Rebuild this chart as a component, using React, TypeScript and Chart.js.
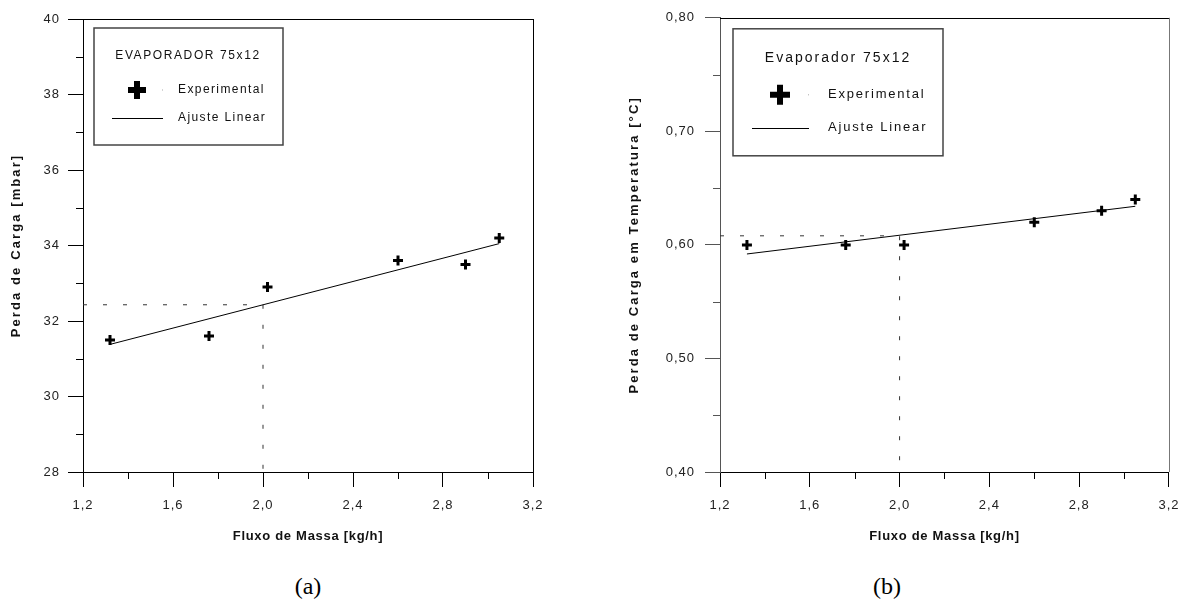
import React, { useEffect, useRef } from "react";
import { Chart, registerables } from "chart.js";

Chart.register(...registerables);

// ---------------- data ----------------
const massFlow = [1.32, 1.76, 2.02, 2.6, 2.9, 3.05];
const pressureDrop = [31.5, 31.6, 32.9, 33.6, 33.5, 34.2];
const tempDrop = [0.6, 0.6, 0.6, 0.62, 0.63, 0.64];

const fitFlow = [1.32, 3.05];
const fitPressure = [31.38, 34.05];
const fitTemp = [0.592, 0.634];

const refFlow = [1.2, 2.0, 2.0];
const refPressure = [32.43, 32.43, 28];
const refTemp = [0.608, 0.608, 0.4];

const xTickValues = [1.2, 1.6, 2.0, 2.4, 2.8, 3.2];
const xMinorValues = [1.4, 1.8, 2.2, 2.6, 3.0];
const yTickValuesA = [28, 30, 32, 34, 36, 38, 40];
const yMinorValuesA = [29, 31, 33, 35, 37, 39];
const yTickValuesB = [0.4, 0.5, 0.6, 0.7, 0.8];
const yMinorValuesB = [0.45, 0.55, 0.65, 0.75];

const xTitle = "Fluxo de Massa [kg/h]";
const yTitleA = "Perda de Carga [mbar]";
const yTitleB = "Perda de Carga em Temperatura [°C]";
const legendTitleA = "EVAPORADOR 75x12";
const legendTitleB = "Evaporador 75x12";
const seriesLabels = ["Experimental", "Ajuste Linear"];
const captions = ["(a)", "(b)"];

const FONT = "'Liberation Sans', Arial, sans-serif";

const fmt = (v: number, d: number) => Number(v).toFixed(d).replace(".", ",");
const pts = (xs: number[], ys: number[]) => xs.map((x, i) => ({ x, y: ys[i] }));

// ---------------- plugins ----------------
const spacingPlugin = {
  id: "spacing",
  beforeDraw(chart: any) {
    (chart.ctx as any).letterSpacing = "1px";
  },
  afterLayout(chart: any) {
    const patch = (s: any, sp: string) => {
      if (!s || s.__patched) return;
      const orig = s.drawTitle;
      s.drawTitle = function (this: any) {
        const c: any = this.ctx;
        const prev = c.letterSpacing;
        c.letterSpacing = sp;
        orig.call(this);
        c.letterSpacing = prev;
      };
      s.__patched = true;
    };
    patch(chart.scales.x, "0.7px");
    patch(chart.scales.y, "2.1px");
  },
};

const framePlugin = {
  id: "frame",
  beforeDatasetsDraw(chart: any, _a: any, o: any) {
    const { ctx, chartArea: ca } = chart;
    ctx.save();
    ctx.lineWidth = 1;
    ctx.strokeStyle = o.topColor;
    ctx.beginPath();
    ctx.moveTo(ca.left, Math.round(ca.top) + 0.5);
    ctx.lineTo(ca.right, Math.round(ca.top) + 0.5);
    ctx.stroke();
    ctx.strokeStyle = o.rightColor;
    ctx.beginPath();
    ctx.moveTo(Math.round(ca.right) + 0.5, ca.top);
    ctx.lineTo(Math.round(ca.right) + 0.5, ca.bottom);
    ctx.stroke();
    ctx.restore();
  },
};

const minorTickPlugin = {
  id: "minorTicks",
  afterDraw(chart: any, _a: any, o: any) {
    const { ctx } = chart;
    const xs = chart.scales.x;
    const ys = chart.scales.y;
    ctx.save();
    ctx.lineWidth = 1;
    ctx.strokeStyle = o.xColor;
    o.x.forEach((v: number) => {
      const px = Math.round(xs.getPixelForValue(v)) + 0.5;
      ctx.beginPath();
      ctx.moveTo(px, xs.top);
      ctx.lineTo(px, xs.top + o.len);
      ctx.stroke();
    });
    ctx.strokeStyle = o.yColor;
    o.y.forEach((v: number) => {
      const py = Math.round(ys.getPixelForValue(v)) + 0.5;
      ctx.beginPath();
      ctx.moveTo(ys.right, py);
      ctx.lineTo(ys.right - o.len, py);
      ctx.stroke();
    });
    ctx.restore();
  },
};

const boxLegendPlugin = {
  id: "boxLegend",
  afterDraw(chart: any, _a: any, o: any) {
    const { ctx, chartArea: ca } = chart;
    const L = ca.left;
    const T = ca.top;
    const ds = chart.data.datasets;
    ctx.save();
    ctx.fillStyle = "#fff";
    ctx.fillRect(L + o.dx, T + o.dy, o.w, o.h);
    ctx.strokeStyle = "#444";
    ctx.lineWidth = 1.5;
    ctx.strokeRect(L + o.dx, T + o.dy, o.w, o.h);

    ctx.fillStyle = "#111";
    ctx.textBaseline = "middle";
    ctx.textAlign = "center";
    ctx.font = `${o.titleSize}px ${FONT}`;
    (ctx as any).letterSpacing = o.titleSpacing;
    ctx.fillText(o.title, L + o.titleX, T + o.titleY);

    // entry 1 : cross marker
    const cx = L + o.markX;
    const cy = T + o.row1;
    ctx.strokeStyle = "#000";
    ctx.lineWidth = o.crossW;
    ctx.beginPath();
    ctx.moveTo(cx - o.crossR, cy);
    ctx.lineTo(cx + o.crossR, cy);
    ctx.moveTo(cx, cy - o.crossR);
    ctx.lineTo(cx, cy + o.crossR);
    ctx.stroke();
    ctx.fillStyle = "#aaa";
    ctx.fillRect(L + o.dotX, cy - 0.5, 1, 1);

    ctx.fillStyle = "#111";
    ctx.textAlign = "left";
    ctx.font = `${o.textSize}px ${FONT}`;
    (ctx as any).letterSpacing = o.textSpacing;
    ctx.fillText(ds[0].label, L + o.textX, cy);

    // entry 2 : line sample
    const ly = Math.round(T + o.row2) + 0.5;
    ctx.strokeStyle = "#000";
    ctx.lineWidth = 1;
    ctx.beginPath();
    ctx.moveTo(L + o.lineX0, ly);
    ctx.lineTo(L + o.lineX1, ly);
    ctx.stroke();
    ctx.fillText(ds[1].label, L + o.textX, T + o.row2);
    ctx.restore();
  },
};

// ---------------- panel description ----------------
type Panel = {
  width: number;
  height: number;
  padTop: number;
  padRight: number;
  yAxisWidth: number;
  areaBottom: number;
  yTitlePad: number;
  yTickPad: number;
  yColor: string;
  rightColor: string;
  yMin: number;
  yMax: number;
  yDecimals: number;
  yTicks: number[];
  yMinor: number[];
  yTitle: string;
  values: number[];
  fit: number[];
  ref: number[];
  legend: any;
};

function buildConfig(p: Panel): any {
  const tickFont = { family: FONT, size: 13 };
  const titleFont = { family: FONT, size: 13, weight: "bold" as const };
  return {
    type: "scatter",
    data: {
      datasets: [
        {
          label: seriesLabels[0],
          data: pts(massFlow, p.values),
          showLine: false,
          pointStyle: "cross",
          pointRadius: 5,
          pointBorderWidth: 3,
          pointBorderColor: "#000",
          borderColor: "#000",
          backgroundColor: "#000",
        },
        {
          label: seriesLabels[1],
          data: pts(fitFlow, p.fit),
          showLine: true,
          borderColor: "#000",
          borderWidth: 1,
          pointRadius: 0,
        },
        {
          label: "ref",
          data: pts(refFlow, p.ref),
          showLine: true,
          borderColor: "#333",
          borderWidth: 1,
          borderDash: [4, 16],
          pointRadius: 0,
        },
      ],
    },
    options: {
      responsive: false,
      animation: false,
      events: [],
      layout: { padding: { left: 0, top: p.padTop, right: p.padRight, bottom: 0 } },
      plugins: {
        legend: { display: false },
        tooltip: { enabled: false },
        frame: { topColor: "#000", rightColor: p.rightColor },
        minorTicks: { x: xMinorValues, y: p.yMinor, len: 7, xColor: "#000", yColor: p.yColor },
        boxLegend: p.legend,
      },
      scales: {
        x: {
          type: "linear",
          position: "bottom",
          min: xTickValues[0],
          max: xTickValues[xTickValues.length - 1],
          afterBuildTicks: (s: any) => {
            s.ticks = xTickValues.map((v) => ({ value: v }));
          },
          afterFit: (s: any) => {
            s.height = p.height - p.areaBottom;
          },
          ticks: {
            callback: (v: number) => fmt(v, 1),
            padding: 11,
            color: "#222",
            font: tickFont,
            maxRotation: 0,
            autoSkip: false,
          },
          grid: { drawOnChartArea: false, drawTicks: true, tickLength: 15, tickColor: "#000", tickWidth: 1 },
          border: { display: true, color: "#000", width: 1 },
          title: {
            display: true,
            text: xTitle,
            color: "#111",
            font: titleFont,
            padding: { top: 0, bottom: 16 },
          },
        },
        y: {
          type: "linear",
          position: "left",
          min: p.yMin,
          max: p.yMax,
          afterBuildTicks: (s: any) => {
            s.ticks = p.yTicks.map((v) => ({ value: v }));
          },
          afterFit: (s: any) => {
            s.width = p.yAxisWidth;
          },
          ticks: {
            callback: (v: number) => fmt(v, p.yDecimals),
            padding: p.yTickPad,
            color: "#222",
            font: tickFont,
            autoSkip: false,
          },
          grid: { drawOnChartArea: false, drawTicks: true, tickLength: 15, tickColor: p.yColor, tickWidth: 1 },
          border: { display: true, color: p.yColor, width: 1 },
          title: {
            display: true,
            text: p.yTitle,
            color: "#111",
            font: titleFont,
            padding: { top: p.yTitlePad, bottom: 0 },
          },
        },
      },
    },
    plugins: [spacingPlugin, framePlugin, minorTickPlugin, boxLegendPlugin],
  };
}

const panelA: Panel = {
  width: 560,
  height: 560,
  padTop: 19,
  padRight: 27,
  yAxisWidth: 83,
  areaBottom: 472,
  yTitlePad: 9,
  yTickPad: 8,
  yColor: "#000",
  rightColor: "#000",
  yMin: 28,
  yMax: 40,
  yDecimals: 0,
  yTicks: yTickValuesA,
  yMinor: yMinorValuesA,
  yTitle: yTitleA,
  values: pressureDrop,
  fit: fitPressure,
  ref: refPressure,
  legend: {
    title: legendTitleA,
    dx: 11, dy: 9, w: 189, h: 117,
    titleX: 105, titleY: 37, titleSize: 12, titleSpacing: "1.6px",
    markX: 54, row1: 71, crossR: 9, crossW: 6, dotX: 79,
    textX: 95, textSize: 12, textSpacing: "1.4px",
    lineX0: 29, lineX1: 80, row2: 99,
  },
};

const panelB: Panel = {
  width: 589,
  height: 560,
  padTop: 17,
  padRight: 14,
  yAxisWidth: 120,
  areaBottom: 472,
  yTitlePad: 27,
  yTickPad: 10,
  yColor: "#555",
  rightColor: "#777",
  yMin: 0.4,
  yMax: 0.8,
  yDecimals: 2,
  yTicks: yTickValuesB,
  yMinor: yMinorValuesB,
  yTitle: yTitleB,
  values: tempDrop,
  fit: fitTemp,
  ref: refTemp,
  legend: {
    title: legendTitleB,
    dx: 13, dy: 11, w: 210, h: 127,
    titleX: 118, titleY: 40, titleSize: 14, titleSpacing: "2px",
    markX: 60, row1: 77, crossR: 10, crossW: 6, dotX: 88,
    textX: 108, textSize: 13, textSpacing: "1.8px",
    lineX0: 32, lineX1: 89, row2: 110,
  },
};

function ChartCanvas({ panel, left }: { panel: Panel; left: number }) {
  const ref = useRef<HTMLCanvasElement | null>(null);
  useEffect(() => {
    if (!ref.current) return;
    const chart = new Chart(ref.current, buildConfig(panel));
    return () => chart.destroy();
  }, [panel]);
  return (
    <canvas
      ref={ref}
      width={panel.width}
      height={panel.height}
      style={{ position: "absolute", left, top: 0, width: panel.width, height: panel.height }}
    />
  );
}

export default function App() {
  const captionStyle: React.CSSProperties = {
    position: "absolute",
    top: 574,
    width: 80,
    marginLeft: -40,
    textAlign: "center",
    fontFamily: "'Liberation Serif', 'Times New Roman', serif",
    fontSize: 24,
    lineHeight: "24px",
    color: "#000",
  };
  return (
    <div
      style={{
        position: "absolute",
        left: 0,
        top: 0,
        width: 1189,
        height: 603,
        background: "#fff",
        overflow: "hidden",
      }}
    >
      <ChartCanvas panel={panelA} left={0} />
      <ChartCanvas panel={panelB} left={600} />
      <div style={{ ...captionStyle, left: 308 }}>{captions[0]}</div>
      <div style={{ ...captionStyle, left: 887 }}>{captions[1]}</div>
    </div>
  );
}
